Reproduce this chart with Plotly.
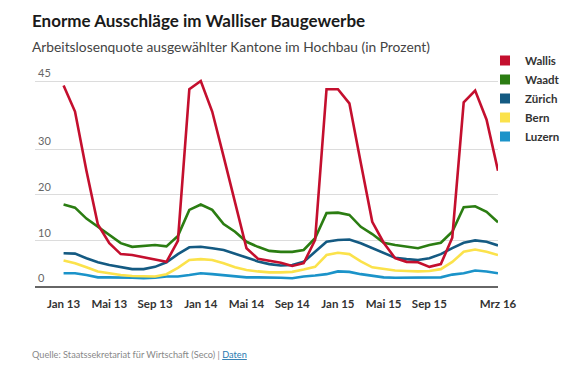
import plotly.graph_objects as go

months = ["Jan 13","Feb 13","Mrz 13","Apr 13","Mai 13","Jun 13","Jul 13","Aug 13","Sep 13","Okt 13","Nov 13","Dez 13",
          "Jan 14","Feb 14","Mrz 14","Apr 14","Mai 14","Jun 14","Jul 14","Aug 14","Sep 14","Okt 14","Nov 14","Dez 14",
          "Jan 15","Feb 15","Mrz 15","Apr 15","Mai 15","Jun 15","Jul 15","Aug 15","Sep 15","Okt 15","Nov 15","Dez 15",
          "Jan 16","Feb 16","Mrz 16"]

wallis = [44.0,38.3,25.3,13.5,9.4,7.0,6.8,6.3,5.7,5.3,9.9,43.2,
          45.0,38.3,28.4,18.2,8.3,6.0,5.6,5.1,4.4,5.0,10.1,43.2,
          43.2,40.1,27.0,14.1,9.5,6.1,5.3,5.2,4.2,4.8,10.6,40.3,
          42.9,36.5,25.3]
waadt = [17.9,17.2,14.8,13.0,11.2,9.4,8.6,8.8,9.0,8.7,11.0,16.7,
         17.9,16.7,13.6,11.9,9.7,8.6,7.7,7.5,7.5,7.9,10.5,16.0,
         16.1,15.6,13.0,11.4,9.5,9.0,8.6,8.3,9.0,9.5,11.9,17.3,
         17.5,16.3,14.0]
zuerich = [7.2,7.1,6.1,5.2,4.6,4.1,3.7,3.7,4.2,5.2,7.0,8.5,
           8.6,8.3,7.9,7.1,6.2,5.4,4.8,4.5,4.6,5.3,7.5,9.7,
           10.1,10.2,9.4,8.3,7.2,6.2,5.9,5.7,6.1,7.0,8.3,9.5,
           10.0,9.7,8.9]
bern = [5.6,5.0,4.1,3.2,2.8,2.4,2.2,2.1,2.1,2.6,4.0,5.7,
        5.9,5.7,5.0,4.1,3.5,3.2,3.0,3.0,3.1,3.6,4.2,6.8,
        7.3,7.0,5.4,4.1,3.7,3.4,3.3,3.2,3.3,3.7,5.3,7.5,
        8.0,7.5,6.8]
luzern = [2.8,2.8,2.4,1.9,1.9,1.9,1.8,1.7,1.8,2.1,2.1,2.4,
          2.8,2.6,2.4,2.2,1.9,1.9,1.9,1.8,1.7,2.1,2.3,2.6,
          3.2,3.1,2.6,2.2,1.9,1.8,1.8,1.8,1.9,1.9,2.5,2.8,
          3.4,3.2,2.8]

series_names = ["Wallis", "Waadt", "Zürich", "Bern", "Luzern"]
series_values = [wallis, waadt, zuerich, bern, luzern]
colors = ["#c40f2e", "#2b7d12", "#145a82", "#fbe24b", "#1b93c9"]

tick_labels = ["Jan 13","Mai 13","Sep 13","Jan 14","Mai 14","Sep 14","Jan 15","Mai 15","Sep 15","Mrz 16"]
y_ticks = [0, 10, 20, 30, 45]

FONT = "Lato"
# plot area: x 35..498 px, y 0 at 286 px, 45 at 81 px
PX_PER_UNIT = 205 / 45
TOP_PX = 62
Y_TOP = (286 - TOP_PX) / PX_PER_UNIT
PLOT_H = 286 - TOP_PX

def ypaper(px):
    return (286 - px) / PLOT_H

fig = go.Figure()
for name, vals, col in reversed(list(zip(series_names, series_values, colors))):
    fig.add_trace(go.Scatter(x=months, y=vals, mode="lines", name=name,
                             line=dict(color=col, width=2.6), showlegend=False,
                             cliponaxis=False, hoverinfo="x+y+name"))
for name, col in zip(series_names, colors):
    fig.add_trace(go.Scatter(x=[None], y=[None], mode="markers", name=name,
                             marker=dict(symbol="square", size=10, color=col)))

fig.update_layout(
    width=582, height=378,
    margin=dict(l=35, r=84, t=TOP_PX, b=92, autoexpand=False),
    paper_bgcolor="white", plot_bgcolor="white",
    font=dict(family=FONT, color="#333"),
    showlegend=True,
    legend=dict(xref="container", yref="container", x=485/582, y=1 - 46/378,
                xanchor="left", yanchor="top", font=dict(size=11.5, color="#333", family=FONT, weight="bold"),
                itemwidth=30, tracegroupgap=0, bgcolor="rgba(0,0,0,0)"),
    xaxis=dict(type="category", categoryorder="array", categoryarray=months,
               range=[-2.5, 38], tickvals=tick_labels, ticktext=tick_labels,
               showgrid=False, showline=True, linecolor="#666", linewidth=1.5,
               ticks="", tickfont=dict(size=11.5, color="#333", family=FONT, weight="bold"),
               ticklabelstandoff=6, fixedrange=True),
    yaxis=dict(range=[0, Y_TOP], tickvals=y_ticks, showgrid=True, gridcolor="#dcdcdc", gridwidth=1,
               zeroline=False, ticks="", ticklabelposition="inside top",
               tickfont=dict(size=11, color="#666", family=FONT), fixedrange=True),
    annotations=[
        dict(text="<b>Enorme Ausschläge im Walliser Baugewerbe</b>", xref="paper", yref="paper",
             x=-5/463, y=ypaper(20.5), xanchor="left", yanchor="middle", showarrow=False,
             font=dict(size=17, color="#1a1a1a", family=FONT)),
        dict(text="Arbeitslosenquote ausgewählter Kantone im Hochbau (in Prozent)", xref="paper", yref="paper",
             x=-5/463, y=ypaper(46), xanchor="left", yanchor="middle", showarrow=False,
             font=dict(size=13.8, color="#444", family=FONT)),
        dict(text="Quelle: Staatssekretariat für Wirtschaft (Seco) | <a href='#' style='color:#2a7ab0'><u>Daten</u></a>",
             xref="paper", yref="paper",
             x=-5/463, y=ypaper(354), xanchor="left", yanchor="middle", showarrow=False,
             font=dict(size=9.2, color="#888", family=FONT)),
    ],
)

fig.write_html("out.html", config={"displayModeBar": False},
               post_script="document.body.style.margin='0';")
